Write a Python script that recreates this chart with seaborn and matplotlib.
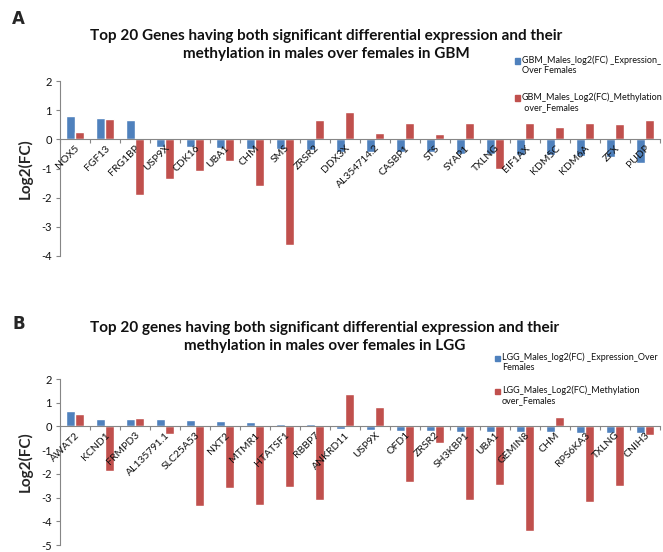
import numpy as np
import pandas as pd
import seaborn as sns
import matplotlib.pyplot as plt
from matplotlib.patches import Rectangle

# ---- GBM: males over females ----
gbm_genes = ["NOX5", "FGF13", "FRG1BP", "USP9X", "CDK16", "UBA1", "CHM", "SMS",
             "ZRSR2", "DDX3X", "AL354714.2", "CASBP1", "STS", "SYAP1", "TXLNG",
             "EIF1AX", "KDM5C", "KDM6A", "ZFX", "PUDP"]
gbm_expression = [0.80, 0.72, 0.67, -0.25, -0.26, -0.28, -0.32, -0.34, -0.37, -0.42,
                  -0.43, -0.44, -0.45, -0.49, -0.50, -0.52, -0.53, -0.58, -0.59, -0.82]
gbm_methylation = [0.26, 0.70, -1.92, -1.35, -1.10, -0.73, -1.61, -3.63, 0.65, 0.94,
                   0.22, 0.56, 0.19, 0.56, -1.02, 0.55, 0.41, 0.57, 0.51, 0.65]
gbm_series = ["GBM_Males_log2(FC) _Expression_\nOver Females",
              "GBM_Males_Log2(FC)_Methylation\n over_Females"]
gbm_title = ("Top 20 Genes having both significant differential expression and their\n"
             "methylation in males over females in GBM")

# ---- LGG: males over females ----
lgg_genes = ["AWAT2", "KCND1", "FRMPD3", "AL135791.1", "SLC25A53", "NXT2", "MTMR1",
             "HTATSF1", "RBBP7", "ANKRD11", "USP9X", "OFD1", "ZRSR2", "SH3KBP1",
             "UBA1", "GEMIN8", "CHM", "RPS6KA3", "TXLNG", "CNIH3"]
lgg_expression = [0.65, 0.33, 0.32, 0.31, 0.26, 0.21, 0.17, 0.12, 0.12, -0.11,
                  -0.15, -0.18, -0.21, -0.24, -0.25, -0.24, -0.25, -0.26, -0.29, -0.29]
lgg_methylation = [0.53, -1.89, 0.36, -0.32, -3.36, -2.58, -3.33, -2.54, -3.10, 1.36,
                   0.83, -2.35, -0.69, -3.10, -2.49, -4.39, 0.39, -3.17, -2.51, -0.36]
lgg_series = ["LGG_Males_log2(FC) _Expression_Over\nFemales",
              "LGG_Males_Log2(FC)_Methylation\nover_Females"]
lgg_title = ("Top 20 genes having both significant differential expression and their\n"
             "methylation in males over females in LGG")

EXPR_COLOR = "#4F81BD"
METH_COLOR = "#C0504D"
AXIS_GRAY = "#868686"

sns.set_theme(style="ticks")
plt.rcParams["font.family"] = ["Lato", "DejaVu Sans"]
plt.rcParams["axes.unicode_minus"] = False

W, H = 663, 552
fig = plt.figure(figsize=(W / 100, H / 100), dpi=100)


def px(x, y):
    """Pixel position (from top-left) to figure fraction."""
    return x / W, 1 - y / H


def draw_panel(ax, genes, expr, meth, series, ymin, ymax):
    n = len(genes)
    df = pd.DataFrame({
        "gene": genes + genes,
        "value": expr + meth,
        "series": [series[0]] * n + [series[1]] * n,
    })
    sns.barplot(data=df, x="gene", y="value", hue="series", order=genes,
                hue_order=series, palette=[EXPR_COLOR, METH_COLOR], width=0.57,
                saturation=1, errorbar=None, legend=False, ax=ax)
    for bar in ax.patches:
        bar.set_zorder(1)
    # gene names are written on top of the bars
    ax.set_axisbelow(False)
    ax.set_xlim(-0.5, n - 0.5)
    ax.set_ylim(ymin, ymax)

    for side in ("top", "right"):
        ax.spines[side].set_visible(False)
    ax.spines["left"].set_color(AXIS_GRAY)
    ax.spines["left"].set_linewidth(0.8)
    ax.spines["bottom"].set_position(("data", 0))
    ax.spines["bottom"].set_color(AXIS_GRAY)
    ax.spines["bottom"].set_linewidth(0.8)

    ax.set_xticks(range(n))
    ax.set_xticklabels(genes, rotation=45, ha="right", rotation_mode="anchor",
                       fontsize=7.5, color="#111111")
    ax.set_xticks(np.arange(-0.5, n, 1.0), minor=True)
    ax.tick_params(axis="x", which="major", length=0, pad=3)
    ax.tick_params(axis="x", which="minor", length=3, direction="out",
                   color=AXIS_GRAY, width=0.8)

    ax.set_yticks(range(ymin, ymax + 1))
    ax.tick_params(axis="y", length=3, direction="out", color=AXIS_GRAY,
                   width=0.8, labelsize=8, pad=3, labelcolor="#111111")
    ax.set_xlabel("")
    ax.set_ylabel("Log2(FC)", fontsize=11, fontweight="bold", labelpad=6)


def draw_key(x_sq, y_first, gap, series):
    colors = [EXPR_COLOR, METH_COLOR]
    for k, (label, color) in enumerate(zip(series, colors)):
        yc = y_first + k * gap
        sx, sy = px(x_sq, yc + 2.5)
        fig.add_artist(Rectangle((sx, sy), 5 / W, 5 / H, color=color,
                                 transform=fig.transFigure))
        tx, ty = px(x_sq + 7, yc - 6)
        fig.text(tx, ty, label, ha="left", va="top", fontsize=6.5,
                 linespacing=1.2, color="#111111")


# Panel A
ax_a = fig.add_axes([60 / W, 1 - 256 / H, 600 / W, 175 / H])
draw_panel(ax_a, gbm_genes, gbm_expression, gbm_methylation, gbm_series, -4, 2)
fig.text(*px(326, 45), gbm_title, ha="center", va="center", fontsize=11,
         fontweight="bold", linespacing=1.4, color="#111111")
fig.text(*px(12, 19), "A", ha="left", va="center", fontsize=12,
         fontweight="bold", family="DejaVu Sans")
draw_key(515, 61, 37, gbm_series)

# Panel B
ax_b = fig.add_axes([60 / W, 1 - 545 / H, 600 / W, 166 / H])
draw_panel(ax_b, lgg_genes, lgg_expression, lgg_methylation, lgg_series, -5, 2)
fig.text(*px(325, 337), lgg_title, ha="center", va="center", fontsize=11,
         fontweight="bold", linespacing=1.4, color="#111111")
fig.text(*px(12, 324), "B", ha="left", va="center", fontsize=12,
         fontweight="bold", family="DejaVu Sans")
draw_key(495, 358, 33, lgg_series)

fig.savefig("out.png", dpi=100, facecolor="white")
